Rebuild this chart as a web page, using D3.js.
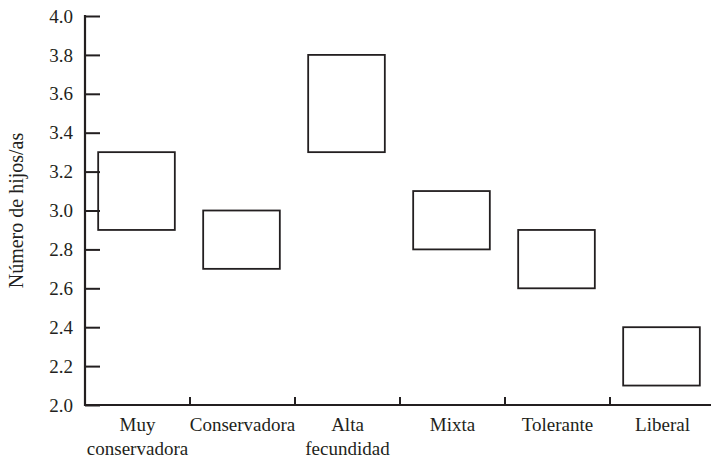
<!DOCTYPE html>
<html>
<head>
<meta charset="utf-8">
<script src="https://cdn.jsdelivr.net/npm/d3@7"></script>
<style>
  body { margin: 0; background: #fff; }
</style>
</head>
<body>
<script>
var width = 711;
var height = 460;

// data
var categories = ["Muy conservadora", "Conservadora", "Alta fecundidad", "Mixta", "Tolerante", "Liberal"];
var lowValues = [2.9, 2.7, 3.3, 2.8, 2.6, 2.1];
var highValues = [3.3, 3.0, 3.8, 3.1, 2.9, 2.4];
var yTicks = [2.0, 2.2, 2.4, 2.6, 2.8, 3.0, 3.2, 3.4, 3.6, 3.8, 4.0];
var yTitle = "Número de hijos/as";

var font = "'Liberation Serif', 'Times New Roman', Times, 'DejaVu Serif', serif";
var ink = "#231f20";

var svg = d3.select("body").append("svg")
  .attr("width", width).attr("height", height)
  .style("font-family", font);

var x = d3.scaleBand().domain(categories).range([85, 715]).padding(0);
var y = d3.scaleLinear().domain([2.0, 4.0]).range([405, 16]);

// boxes
var boxW = x.bandwidth() * 0.73;
svg.selectAll("rect.box").data(categories).enter().append("rect")
  .attr("class", "box")
  .attr("x", function (d) { return x(d) + x.bandwidth() / 2 - boxW / 2 - 1; })
  .attr("y", function (d, i) { return y(highValues[i]); })
  .attr("width", boxW)
  .attr("height", function (d, i) { return y(lowValues[i]) - y(highValues[i]); })
  .style("fill", "#fff")
  .style("stroke", ink)
  .style("stroke-width", 1.8);

// y axis: ticks point inward
var yAxis = svg.append("g").attr("transform", "translate(85,0)")
  .call(d3.axisRight(y).tickValues(yTicks).tickSize(15).tickFormat(""));
yAxis.select(".domain").remove();
yAxis.selectAll(".tick line").style("stroke", ink).style("stroke-width", 2);
svg.append("line").attr("x1", 85).attr("x2", 85).attr("y1", y(4.0) - 1).attr("y2", y(2.0) + 1)
  .style("stroke", ink).style("stroke-width", 2.2);

svg.selectAll("text.ytick").data(yTicks).enter().append("text")
  .attr("class", "ytick")
  .attr("x", 73)
  .attr("y", function (d) { return y(d); })
  .attr("dy", "0.35em")
  .attr("text-anchor", "end")
  .attr("font-family", font)
  .style("font-size", "19px")
  .style("fill", ink)
  .text(function (d) { return d3.format(".1f")(d); });

// x axis: ticks at band boundaries pointing up
var bounds = categories.slice(1).map(function (c) { return x(c); });
svg.selectAll("line.xtick").data(bounds).enter().append("line")
  .attr("class", "xtick")
  .attr("x1", function (d) { return d; }).attr("x2", function (d) { return d; })
  .attr("y1", y(2.0)).attr("y2", y(2.0) - 8)
  .style("stroke", ink).style("stroke-width", 2);
svg.append("line").attr("x1", 84).attr("x2", width).attr("y1", y(2.0)).attr("y2", y(2.0))
  .style("stroke", ink).style("stroke-width", 2.2);

// category labels (wrap two-word labels)
var labels = svg.selectAll("text.xlab").data(categories).enter().append("text")
  .attr("class", "xlab")
  .attr("text-anchor", "middle")
  .attr("font-family", font)
  .style("font-size", "19px")
  .style("fill", ink);
labels.each(function (d) {
  var words = d.split(" ");
  var cx = x(d) + x.bandwidth() / 2;
  var t = d3.select(this);
  words.forEach(function (w, i) {
    t.append("tspan").attr("x", cx).attr("y", 431 + i * 24).text(w);
  });
});

// y title
svg.append("text")
  .attr("transform", "translate(23," + y(3.0) + ") rotate(-90)")
  .attr("text-anchor", "middle")
  .attr("font-family", font)
  .style("font-size", "20px")
  .style("fill", ink)
  .text(yTitle);
</script>
</body>
</html>
